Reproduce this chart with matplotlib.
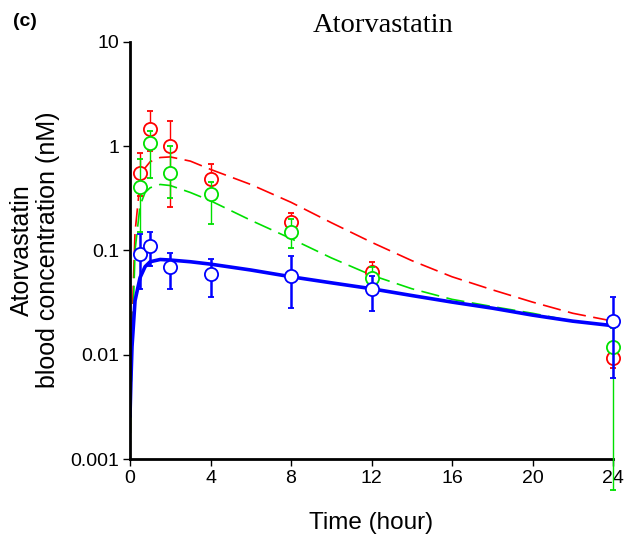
import numpy as np
import matplotlib
matplotlib.use('Agg')
import matplotlib.pyplot as plt

plt.rcParams['font.family'] = ['Liberation Sans', 'DejaVu Sans']

# observed data (mean, lower, upper)
t_obs = [0.5, 1, 2, 4, 8, 12, 24]

red_y = [0.56, 1.46, 1.0, 0.49, 0.187, 0.062, 0.0093]
red_lo = [0.33, 0.9, 0.26, 0.35, 0.15, 0.05, 0.0075]
red_hi = [0.86, 2.16, 1.74, 0.67, 0.23, 0.078, 0.011]

green_y = [0.41, 1.07, 0.55, 0.35, 0.15, 0.055, 0.0118]
green_lo = [0.15, 0.5, 0.32, 0.18, 0.105, 0.045, 0.0005]
green_hi = [0.75, 1.4, 1.0, 0.45, 0.2, 0.07, 0.018]

blue_y = [0.092, 0.11, 0.069, 0.06, 0.057, 0.043, 0.021]
blue_lo = [0.043, 0.071, 0.043, 0.036, 0.028, 0.026, 0.006]
blue_hi = [0.143, 0.15, 0.094, 0.082, 0.088, 0.057, 0.036]

# model curves
t_fit = [0, 0.05, 0.1, 0.25, 0.5, 0.75, 1, 1.5, 2, 3, 4, 6, 8, 10, 12, 14, 16, 18, 20, 22, 24]
red_fit = [0.001, 0.006, 0.02, 0.15, 0.45, 0.62, 0.71, 0.78, 0.79, 0.72, 0.6, 0.43, 0.29,
           0.185, 0.12, 0.08, 0.056, 0.042, 0.032, 0.025, 0.021]
green_fit = [0.001, 0.004, 0.01, 0.1, 0.27, 0.36, 0.40, 0.43, 0.42, 0.36, 0.30, 0.195, 0.13,
             0.085, 0.058, 0.043, 0.034, 0.029, 0.025, 0.021, 0.019]
blue_fit = [0.0026, 0.006, 0.012, 0.033, 0.055, 0.07, 0.078, 0.082, 0.081, 0.078, 0.074,
            0.065, 0.056, 0.049, 0.043, 0.037, 0.032, 0.028, 0.024, 0.021, 0.019]

x_ticks = [0, 4, 8, 12, 16, 20, 24]
y_ticks = [0.001, 0.01, 0.1, 1, 10]
y_labels = ['0.001', '0.01', '0.1', '1', '10']


def yerr(y, lo, hi):
    y = np.array(y)
    return [y - np.array(lo), np.array(hi) - y]


fig = plt.figure(figsize=(6.39, 5.40), dpi=100)
ax = fig.add_axes([130 / 639, 1 - 459 / 540, 483 / 639, 417 / 540])

ax.plot(t_fit, red_fit, color='#ff0000', lw=1.2, dashes=(11, 4.5))
ax.plot(t_fit, green_fit, color='#00e000', lw=1.2, dashes=(11, 4.5))
ax.plot(t_fit, blue_fit, color='#0000ff', lw=2.6)

ax.errorbar(t_obs, red_y, yerr=yerr(red_y, red_lo, red_hi), fmt='o', color='#ff0000',
            mfc='white', mec='#ff0000', ms=9.5, mew=1.3, elinewidth=1.0, capsize=2.5,
            capthick=1.0, clip_on=False, zorder=3)
ax.errorbar(t_obs, green_y, yerr=yerr(green_y, green_lo, green_hi), fmt='o', color='#00e000',
            mfc='white', mec='#00e000', ms=9.5, mew=1.3, elinewidth=1.0, capsize=2.5,
            capthick=1.0, clip_on=False, zorder=4)
ax.errorbar(t_obs, blue_y, yerr=yerr(blue_y, blue_lo, blue_hi), fmt='o', color='#0000ff',
            mfc='white', mec='#0000ff', ms=9.5, mew=1.3, elinewidth=1.8, capsize=2.5,
            capthick=1.8, clip_on=False, zorder=5)

ax.set_yscale('log')
ax.set_xlim(0, 24)
ax.set_ylim(0.001, 10)
ax.set_xticks(x_ticks)
ax.set_xticklabels([str(v) for v in x_ticks])
ax.set_yticks(y_ticks)
ax.set_yticklabels(y_labels)
ax.minorticks_off()
ax.tick_params(direction='out', length=5, width=1, labelsize=14, pad=3)

for s in ['top', 'right']:
    ax.spines[s].set_visible(False)
for s in ['left', 'bottom']:
    ax.spines[s].set_linewidth(2)

ax.set_xlabel('Time (hour)', fontsize=17.5, labelpad=18)
fig.text(35 / 639, 1 - 250 / 540, 'Atorvastatin\nblood concentration (nM)', fontsize=18,
         rotation=90, ha='center', va='center', multialignment='center', linespacing=1.15)

fig.text(383 / 639, 1 - 26 / 540, 'Atorvastatin', family='Liberation Serif', fontsize=20.5,
         ha='center', va='center')
fig.text(13 / 639, 1 - 22 / 540, '(c)', fontsize=14, fontweight='bold', va='center')

fig.savefig('out.png', dpi=100)
